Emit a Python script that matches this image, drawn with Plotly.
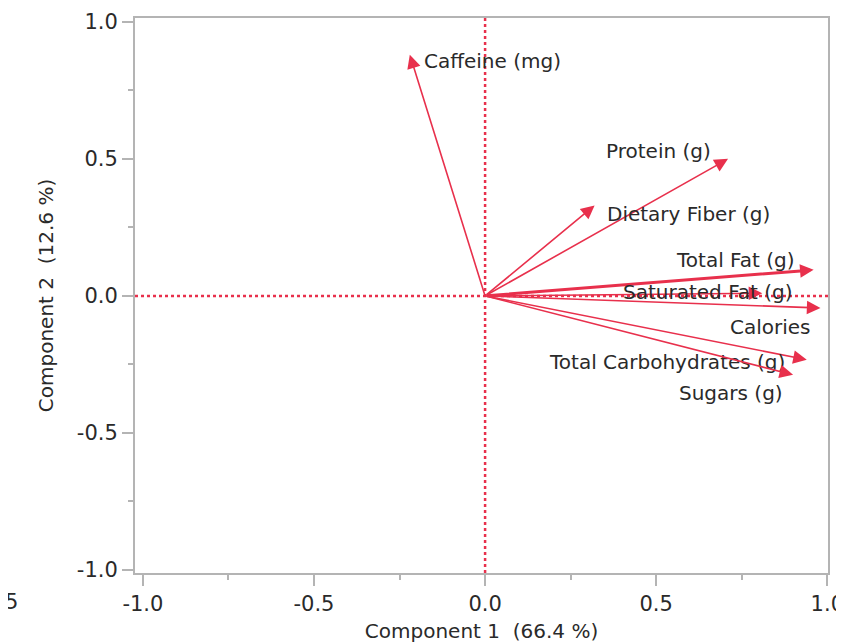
import plotly.graph_objects as go

# ---- data ----
variables = ["Caffeine (mg)", "Protein (g)", "Dietary Fiber (g)", "Total Fat (g)",
             "Saturated Fat (g)", "Calories", "Total Carbohydrates (g)", "Sugars (g)"]
comp1 = [-0.22, 0.71, 0.32, 0.96, 0.81, 0.98, 0.94, 0.90]
comp2 = [0.88, 0.50, 0.33, 0.095, 0.01, -0.044, -0.233, -0.288]
tick_vals = [-1.0, -0.5, 0.0, 0.5, 1.0]
tick_text = ["-1.0", "-0.5", "0.0", "0.5", "1.0"]
x_title = "Component 1  (66.4 %)"
y_title = "Component 2  (12.6 %)"

# ---- styling (layout only) ----
RED = "#E8304C"
FONT = "DejaVu Sans"
TXT = "#2a2a2a"
AX = "#b4b4b4"
# label placement relative to arrow tip: (xanchor, xshift px, yshift px)
label_pos = {
    "Caffeine (mg)": ("left", 12, -6),
    "Protein (g)": ("right", -15, 8),
    "Dietary Fiber (g)": ("left", 10, -9),
    "Total Fat (g)": ("right", -17, 10),
    "Saturated Fat (g)": ("right", 33, 1),
    "Calories": ("right", -7, -19),
    "Total Carbohydrates (g)": ("right", -20, -2),
    "Sugars (g)": ("right", -8, -18),
}
line_w = {"Total Fat (g)": 3.0}

fig = go.Figure()
# invisible trace to set up the axes
fig.add_trace(go.Scatter(x=comp1, y=comp2, mode="markers",
                         marker=dict(size=1, opacity=0), hoverinfo="skip",
                         showlegend=False))

# dotted zero lines
fig.add_shape(type="line", xref="x", yref="paper", x0=0, x1=0, y0=0, y1=1,
              line=dict(color=RED, width=2.5, dash="dot"))
fig.add_shape(type="line", xref="paper", yref="y", x0=0, x1=1, y0=0, y1=0,
              line=dict(color=RED, width=2.5, dash="dot"))

annotations = []
for name, xv, yv in zip(variables, comp1, comp2):
    w = line_w.get(name, 1.6)
    annotations.append(dict(x=xv, y=yv, ax=0, ay=0, xref="x", yref="y",
                            axref="x", ayref="y", text="", showarrow=True,
                            arrowhead=2, arrowsize=1.7 * 1.6 / w, arrowwidth=w,
                            arrowcolor=RED))
    xa, xs, ys = label_pos[name]
    annotations.append(dict(x=xv, y=yv, xref="x", yref="y", text=name,
                            showarrow=False, xanchor=xa, yanchor="middle",
                            xshift=xs, yshift=ys,
                            font=dict(family=FONT, size=20, color=TXT)))

# clipped stray tick label at the far left of the reference
annotations.append(dict(x=-0.178, y=-0.052, xref="paper", yref="paper", text="5",
                        showarrow=False, xanchor="center", yanchor="middle",
                        font=dict(family=FONT, size=21, color=TXT)))

axis_common = dict(
    showgrid=False, zeroline=False, showline=True, linecolor=AX, linewidth=2,
    mirror=True, ticks="outside", ticklen=11, tickwidth=1.5, tickcolor=AX,
    tickvals=tick_vals, ticktext=tick_text, ticklabeloverflow="allow",
    tickfont=dict(family=FONT, size=21, color=TXT),
    minor=dict(dtick=0.25, ticks="outside", ticklen=5, tickwidth=1.5, tickcolor=AX),
)

# page body has an 8px margin, so the figure is sized to fit the window
fig.update_layout(
    width=836, height=635,
    margin=dict(l=127, r=16, t=10, b=70),
    paper_bgcolor="white", plot_bgcolor="white",
    showlegend=False,
    annotations=annotations,
    xaxis=dict(range=[-1.023, 1.002],
               title=dict(text=x_title, standoff=9,
                          font=dict(family=FONT, size=20, color=TXT)),
               automargin=False, **axis_common),
    yaxis=dict(range=[-1.011, 1.014],
               title=dict(text=y_title, standoff=18,
                          font=dict(family=FONT, size=20, color=TXT)),
               automargin=False, **axis_common),
)

fig.write_html("out.html")
